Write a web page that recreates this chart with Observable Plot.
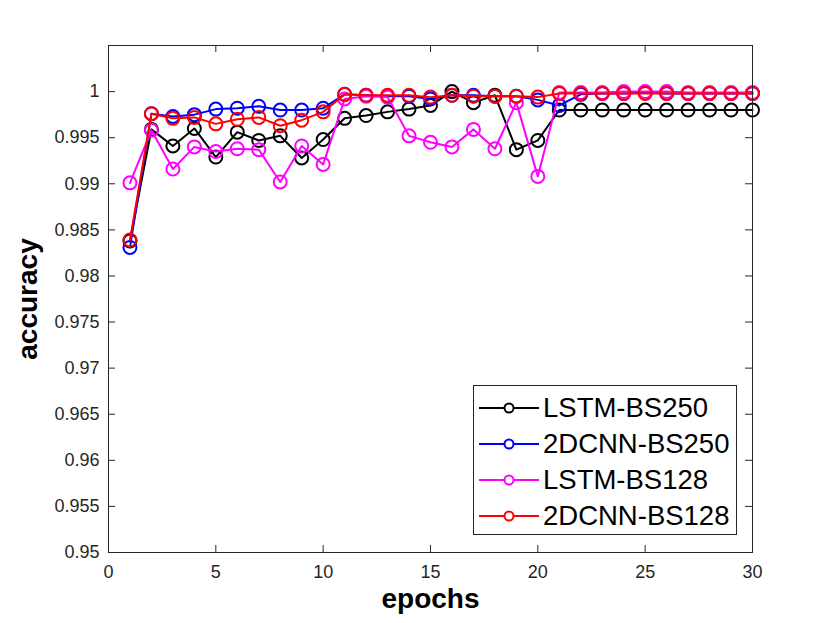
<!DOCTYPE html>
<html>
<head>
<meta charset="utf-8">
<script src="https://cdn.jsdelivr.net/npm/d3@7"></script>
<script src="https://cdn.jsdelivr.net/npm/@observablehq/plot@0.6"></script>
<style>
  body { margin: 0; background: white; }
  #wrap { position: relative; width: 830px; height: 623px; font-family: "Liberation Sans", Arial, Helvetica, sans-serif; }
  #legend { position: absolute; left: 473px; top: 385px; width: 264px; height: 150px; box-sizing: border-box;
            border: 1px solid #262626; background: white; padding-top: 4px; }
  .row { display: flex; align-items: center; height: 36px; }
  .row svg { margin-left: 4px; margin-right: 3px; }
  .row span { font-size: 27.5px; color: #000; line-height: 1; }
</style>
</head>
<body>
<div id="wrap"></div>
<script>
const epochs = [1,2,3,4,5,6,7,8,9,10,11,12,13,14,15,16,17,18,19,20,21,22,23,24,25,26,27,28,29,30];
const seriesNames = ["LSTM-BS250", "2DCNN-BS250", "LSTM-BS128", "2DCNN-BS128"];
const seriesColors = ["#000000", "#0000ff", "#ff00ff", "#ff0000"];
const lstm250 = [0.9838,0.9959,0.9941,0.9960,0.9929,0.9956,0.9947,0.9952,0.9928,0.9948,0.9971,0.9974,0.9978,0.9981,0.9985,1.0000,0.9988,0.9996,0.9937,0.9947,0.9980,0.9980,0.9980,0.9980,0.9980,0.9980,0.9980,0.9980,0.9980,0.9980];
const cnn250  = [0.9831,0.9976,0.9973,0.9975,0.9981,0.9982,0.9984,0.9980,0.9980,0.9982,0.9997,0.9996,0.9995,0.9995,0.9992,0.9996,0.9996,0.9995,0.9995,0.9991,0.9985,0.9997,0.9998,0.9998,0.9999,0.9998,0.9998,0.9998,0.9998,0.9998];
const lstm128 = [0.9901,0.9958,0.9916,0.9940,0.9935,0.9938,0.9937,0.9902,0.9941,0.9921,0.9992,0.9995,0.9994,0.9952,0.9945,0.9940,0.9959,0.9938,0.9988,0.9908,0.9999,0.9999,0.9999,1.0000,1.0000,1.0000,0.9999,0.9999,0.9999,0.9999];
const cnn128  = [0.9839,0.9976,0.9971,0.9972,0.9965,0.9970,0.9972,0.9963,0.9969,0.9978,0.9997,0.9996,0.9996,0.9996,0.9994,0.9996,0.9995,0.9995,0.9995,0.9994,0.9998,0.9998,0.9998,0.9998,0.9998,0.9998,0.9998,0.9998,0.9998,0.9998];
const xTicks = [0,5,10,15,20,25,30];
const yTicks = [0.95,0.955,0.96,0.965,0.97,0.975,0.98,0.985,0.99,0.995,1];
const xDomain = [0, 30];
const yDomain = [0.95, 1.005];

const allSeries = [lstm250, cnn250, lstm128, cnn128];
const W = 830, H = 623, mL = 108, mR = 78, mT = 45, mB = 71;
const pW = W - mL - mR, pH = H - mT - mB, tl = 7;
const axisColor = "#262626";

const seriesMarks = allSeries.flatMap((vals, i) => {
  const data = epochs.map((e, j) => ({epoch: e, acc: vals[j]}));
  return [
    Plot.line(data, {x: "epoch", y: "acc", stroke: seriesColors[i], strokeWidth: 2}),
    Plot.dot(data, {x: "epoch", y: "acc", stroke: seriesColors[i], r: 6.5, strokeWidth: 2, fill: "none"})
  ];
});

const chart = Plot.plot({
  width: W, height: H,
  marginLeft: mL, marginRight: mR, marginTop: mT, marginBottom: mB,
  style: {fontFamily: '"Liberation Sans", Arial, Helvetica, sans-serif', fontSize: "18px", color: axisColor, background: "white"},
  x: {domain: xDomain},
  y: {domain: yDomain},
  marks: [
    Plot.tickX(xTicks, {x: d => d, insetTop: pH - tl, stroke: axisColor}),
    Plot.tickX(xTicks, {x: d => d, insetBottom: pH - tl, stroke: axisColor}),
    Plot.tickY(yTicks, {y: d => d, insetRight: pW - tl, stroke: axisColor}),
    Plot.tickY(yTicks, {y: d => d, insetLeft: pW - tl, stroke: axisColor}),
    Plot.axisX({ticks: xTicks, tickSize: 0, tickPadding: 13, label: null, fontSize: 18, tickFormat: d => String(d)}),
    Plot.axisY({ticks: yTicks, tickSize: 0, tickPadding: 9, label: null, fontSize: 18, tickFormat: d => String(Math.round(d * 1000) / 1000)}),
    ...seriesMarks,
    Plot.frame({stroke: axisColor, strokeWidth: 1}),
    Plot.text(["epochs"], {frameAnchor: "bottom", textAnchor: "middle", dy: 55, fontWeight: "bold", fontSize: 28, fill: "#000"}),
    Plot.text(["accuracy"], {frameAnchor: "left", textAnchor: "middle", dx: -80, rotate: -90, fontWeight: "bold", fontSize: 28, fill: "#000"})
  ]
});

const wrap = document.getElementById("wrap");
wrap.appendChild(chart);

const legend = document.createElement("div");
legend.id = "legend";
seriesNames.forEach((name, i) => {
  const row = document.createElement("div");
  row.className = "row";
  const c = seriesColors[i];
  row.innerHTML = `<svg width="62" height="20"><line x1="1" y1="10" x2="61" y2="10" stroke="${c}" stroke-width="2"/><circle cx="31" cy="10" r="4.5" fill="white" stroke="${c}" stroke-width="2"/></svg><span>${name}</span>`;
  legend.appendChild(row);
});
wrap.appendChild(legend);
</script>
</body>
</html>
